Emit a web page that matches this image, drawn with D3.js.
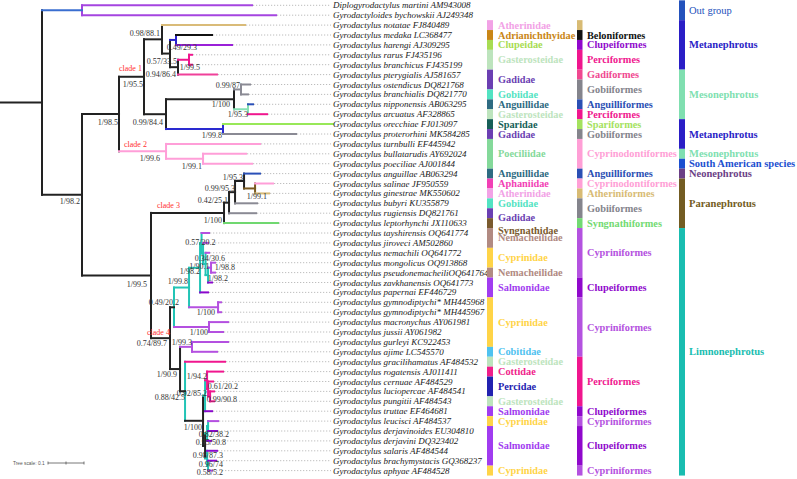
<!DOCTYPE html>
<html><head><meta charset="utf-8">
<script src="https://cdn.jsdelivr.net/npm/d3@7"></script>
<style>body{margin:0;background:#fff}svg{display:block}</style>
</head><body>
<svg id="c" width="797" height="479"></svg>
<script>
// ---------------- DATA ----------------
const taxonLabels = [
"Diplogyrodactylus martini AM943008","Gyrodactyloides bychowskii AJ249348","Gyrodactylus notatae FJ840489",
"Gyrodactylus medaka LC368477","Gyrodactylus harengi AJ309295","Gyrodactylus rarus FJ435196",
"Gyrodactylus branchicus FJ435199","Gyrodactylus pterygialis AJ581657","Gyrodactylus ostendicus DQ821768",
"Gyrodactylus branchialis DQ821770","Gyrodactylus nipponensis AB063295","Gyrodactylus arcuatus AF328865",
"Gyrodactylus orecchiae FJ013097","Gyrodactylus proterorhini MK584285","Gyrodactylus turnbulli EF445942",
"Gyrodactylus bullatarudis AY692024","Gyrodactylus poeciliae AJ001844","Gyrodactylus anguillae AB063294",
"Gyrodactylus salinae JF950559","Gyrodactylus ginestrae MK550602","Gyrodactylus bubyri KU355879",
"Gyrodactylus rugiensis DQ821761","Gyrodactylus leptorhynchi JX110633","Gyrodactylus tayshirensis OQ641774",
"Gyrodactylus jiroveci AM502860","Gyrodactylus nemachili OQ641772","Gyrodactylus mongolicus OQ913868",
"Gyrodactylus pseudonemacheiliOQ641764","Gyrodactylus zavkhanensis OQ641773","Gyrodactylus papernai EF446729",
"Gyrodactylus gymnodiptychi* MH445968","Gyrodactylus gymnodiptychi* MH445967","Gyrodactylus macronychus AY061981",
"Gyrodactylus jussii AY061982","Gyrodactylus gurleyi KC922453","Gyrodactylus ajime LC545570",
"Gyrodactylus gracilihamatus AF484532","Gyrodactylus rogatensis AJ011411","Gyrodactylus cernuae AF484529",
"Gyrodactylus luciopercae AF484541","Gyrodactylus pungitii AF484543","Gyrodactylus truttae EF464681",
"Gyrodactylus leucisci AF484537","Gyrodactylus derjavinoides EU304810","Gyrodactylus derjavini DQ323402",
"Gyrodactylus salaris AF484544","Gyrodactylus brachymystacis GQ368237","Gyrodactylus aphyae AF484528"
];
// host family / order / group for each taxon row (same order as taxonLabels)
const families = [null,null,"Atherinidae","Adrianichthyidae","Clupeidae","Gasterosteidae","Gasterosteidae",
"Gadidae","Gadidae","Gobiidae","Anguillidae","Gasterosteidae","Sparidae","Gadidae","Poeciliidae","Poeciliidae",
"Poeciliidae","Anguillidae","Aphaniidae","Atherinidae","Gobiidae","Gadidae","Syngnathidae","Nemacheilidae",
"Nemacheilidae","Cyprinidae","Cyprinidae","Nemacheilidae","Salmonidae","Salmonidae","Cyprinidae","Cyprinidae",
"Cyprinidae","Cyprinidae","Cyprinidae","Cobitidae","Gasterosteidae","Cottidae","Percidae","Percidae",
"Gasterosteidae","Salmonidae","Cyprinidae","Salmonidae","Salmonidae","Salmonidae","Salmonidae","Cyprinidae"];
const orders = [null,null,"(Atheriniformes)","Beloniformes","Clupeiformes","Perciformes","Perciformes",
"Gadiformes","Gobiiformes","Gobiiformes","Anguilliformes","Perciformes","Spariformes","Gobiiformes",
"Cyprinodontiformes","Cyprinodontiformes","Cyprinodontiformes","Anguilliformes","Cyprinodontiformes",
"Atheriniformes","Gobiiformes","Gobiiformes","Syngnathiformes","Cypriniformes","Cypriniformes","Cypriniformes",
"Cypriniformes","Cypriniformes","Clupeiformes","Clupeiformes","Cypriniformes","Cypriniformes","Cypriniformes",
"Cypriniformes","Cypriniformes","Cypriniformes","Perciformes","Perciformes","Perciformes","Perciformes",
"Perciformes","Clupeiformes","Cypriniformes","Clupeiformes","Clupeiformes","Clupeiformes","Clupeiformes","Cypriniformes"];
const groups = ["Out group","Out group","Metanephrotus","Metanephrotus","Metanephrotus","Metanephrotus","Metanephrotus",
"Mesonephrotus","Mesonephrotus","Mesonephrotus","Mesonephrotus","Mesonephrotus","Metanephrotus","Metanephrotus",
"Metanephrotus","Mesonephrotus","South American species","Neonephrotus","Paranephrotus","Paranephrotus",
"Paranephrotus","Paranephrotus","Paranephrotus"].concat(Array(25).fill("Limnonephrotus"));

// tree topology with branch lengths (Newick; leaves = accession numbers)
const nwOut = "(AM943008:0.4722,AJ249348:0.5389)O:0.1111";
const nwU1 = "(FJ840489:0.2306,((LC368477:0.1,AJ309295:0.1556)U3:0.0167,((FJ435196:0.0083,FJ435199:0.0083)U5:0.0306,AJ581657:0.1083)U4:0.0222)U2:0.0222)U1:0.05";
const nwL1 = "(((DQ821768:0.025,DQ821770:0.0194)L4:0.0194,(AB063295:0.0139,AF328865:0.0528)L5:0.0389)L2:0.1889,(FJ013097:0.3056,MK584285:0.2028)L3:0.1583)L1:0.0611";
const nwK2 = "(EF445942:0.2611,(AY692024:0.1194,AJ001844:0.1361)C2b:0.1028)K2:0.1306";
const nwC3 = "((((AB063294:0.0444,(JF950559:0.05,MK550602:0.0389)N4:0.0306)N3:0.025,KU355879:0.0611)N2:0.0167,DQ821761:0.075)N1:0.0139,JX110633:0.15)C3:0.2028";
const nwD1 = "((((OQ641774:0.0208,(AM502860:0.0139,(OQ641772:0.0097,((OQ913868:0.0111,OQ641764:0.0111)D11:0.0083,OQ641773:0.0111)D10:0.0069)D9:0.0069)D8:0.0042)D7:0.0042,EF446729:0.0222)D6:0.0306,(MH445968:0.0083,MH445967:0.0083)D5:0.0806)D3:0.0417,(AY061981:0.0528,AY061982:0.0389)D4:0.0972)D1:0.0111";
const nwD2 = "((KC922453:0.1,LC545570:0.0694)E1:0.0333,(AF484532:0.1111,(((AJ011411:0.0444,(AF484529:0.0139,(AF484541:0.0111,AF484543:0.0111)E8:0.0056)E7:0.0028)E6:0.0056,EF464681:0.0194)E4:0.0056,(((AF484537:0.0278,EU304810:0.025)F3:0.0028,DQ323402:0.0111)F1:0.0056,(AF484544:0.0278,(GQ368237:0.0222,AF484528:0.0111)F4:0.0028)F2:0.0056)E5:0.0056)E3:0.05)E2:0.0139)D2:0.0278";
const newick = "(" + nwOut + ",(((" + nwU1 + "," + nwL1 + ")K1:0.0694," + nwK2 + ")A:0.1028,(" + nwC3 + ",(" + nwD1 + "," + nwD2 + ")C4:0.0528)B:0.1917)I:0.1111)R:0.1167;";

const supports = {I:"1/98.2",A:"1/98.5",K1:"1/95.5",U1:"0.98/88.1",U2:"0.57/33.5",U3:"0.49/29.3",U4:"0.94/86.4",
U5:"1/99.5",L1:"0.99/84.4",L2:"1/100",L4:"0.99/87",L5:"1/95.3",L3:"1/99.8",K2:"1/99.6",C2b:"1/99.1",B:"1/99.5",
C3:"1/100",N1:"0.42/25.1",N2:"0.99/95.3",N3:"1/95.3",N4:"1/99.1",C4:"0.74/89.7",D1:"0.49/20.2",D3:"1/99.8",
D6:"1/98.2",D7:"0.57/20.2",D8:"0.34/30.6",D9:"1/90.1",D10:"1/98.2",D11:"1/98.8",D5:"1/100",D4:"1/100",
D2:"1/90.9",E1:"1/99.3",E2:"0.88/42.5",E3:"1/100",E4:"0.92/85.2",E6:"1/94.2",E7:"0.61/20.2",E8:"0.99/90.8",
E5:"0.98/87.3",F1:"0.95/50.8",F3:"0.82/38.2",F2:"0.96/74",F4:"0.58/5.2"};
const cladeNames = {K1:"clade 1",K2:"clade 2",C3:"clade 3",C4:"clade 4"};
const scaleBarValue = 0.1;

// ---------------- STYLE / LAYOUT ----------------
const K="#222",P="#b450e0",DP="#8a08cc",M="#f0168e",LP="#ff9ed8",T="#22c4b6",G="#8a8a94",BL="#2a50b8";
const stemColor = {O:"#3a6ed0",AM943008:"#a545e0",AJ249348:"#a545e0",FJ840489:"#d9bb78",U3:"#2a22cc",
LC368477:"#111",AJ309295:"#9a20d8",U5:M,FJ435196:M,FJ435199:M,AJ581657:"#f0409a",L4:G,DQ821768:G,DQ821770:G,
L5:"#86e0b4",AB063295:BL,AF328865:M,L3:"#2a2ad0",FJ013097:"#98e858",MK584285:G,K2:LP,EF445942:LP,C2b:LP,
AY692024:LP,AJ001844:LP,JX110633:"#70d870",DQ821761:G,KU355879:G,AB063294:BL,N4:"#7a5a20",JF950559:LP,
MK550602:"#d9bb78",D3:T,D4:P,AY061981:P,AY061982:P,D5:P,MH445968:P,MH445967:P,D6:T,D7:T,D8:T,D9:T,D10:T,
D11:P,OQ641774:P,AM502860:P,OQ641772:P,OQ913868:P,OQ641764:P,OQ641773:DP,EF446729:DP,E1:P,KC922453:P,
LC545570:P,AF484532:M,E4:T,E6:M,E7:M,E8:M,AJ011411:M,AF484529:M,AF484541:M,AF484543:M,EF464681:DP,
F1:T,F2:T,F3:T,F4:T,AF484537:P,EU304810:DP,DQ323402:DP,AF484544:DP,GQ368237:DP,AF484528:P};
const vertColor = {O:"#a545e0",U3:"#2a22cc",U5:M,L4:G,L5:"#86e0b4",L3:"#2a2ad0",K2:LP,C2b:LP,N4:"#7a5a20",
D1:T,D3:T,D4:P,D5:P,D6:T,D7:T,D8:T,D9:T,D10:T,D11:P,E1:P,E2:T,E4:T,E6:M,E7:M,E8:M,F1:T,F2:T,F3:T,F4:T};
const supportOffset = {U1:[-2,-5.6],U2:[7,8],U3:[21,8],U4:[-2,7],U5:[11,8],K1:[-1,8],A:[-1,8],L1:[-3,8],
L2:[-4,5],L4:[-1,-3.5],L5:[0,5],L3:[-1,6],K2:[-6,7.5],C2b:[-1,8],I:[-2,7],B:[-4,9],C3:[-2,8],N1:[-1,-2.6],
N2:[0,-4],N3:[-1,-4],N4:[12,8.5],C4:[-3,5],D1:[5,-4.5],D3:[-1,-6.5],D5:[-3,5],D4:[-1,5],D6:[0,4],D7:[14,-1],
D8:[22,5],D9:[4,3],D10:[20,3.5],D11:[24,0],D2:[-3,5.5],E1:[0,-4],E2:[0,6],E3:[-1,7],E4:[2,-2.6],E6:[0,-4],
E7:[30,-2],E8:[27,3],E5:[18,10],F1:[19,8.6],F3:[21,8],F2:[16,6],F4:[15,6.5]};
const cladeOffset = {K1:[0,-8],K2:[5,-7],C3:[6,-7],C4:[-4,-6]};
const familyColors = {Atherinidae:"#f2a2e6",Adrianichthyidae:"#c98616",Clupeidae:"#a8dc52",Gasterosteidae:"#bde4bd",
Gadidae:"#6b3fb2",Gobiidae:"#52e3c2",Anguillidae:"#2e6b82",Sparidae:"#175f58",Poeciliidae:"#84d99a",
Aphaniidae:"#f23fb5",Syngnathidae:"#7a5a2e",Nemacheilidae:"#b18a82",Cyprinidae:"#ffd447",Salmonidae:"#a13cf0",
Cobitidae:"#4fc2f0",Cottidae:"#f01e8a",Percidae:"#2222b0"};
const orderColors = {"(Atheriniformes)":"#d8bb74",Beloniformes:"#111",Clupeiformes:"#9008cc",Perciformes:"#f0168e",
Gadiformes:"#f04890",Gobiiformes:"#84848c",Anguilliformes:"#2a4fb4",Spariformes:"#a4e25e",
Cyprinodontiformes:"#ff9fd6",Atheriniformes:"#d8bb74",Syngnathiformes:"#72da72",Cypriniformes:"#b452e0"};
const groupColors = {"Out group":"#2452bc",Metanephrotus:"#2a1ec6",Mesonephrotus:"#80dfb0",
"South American species":"#1b4fd0",Neonephrotus:"#6b3f86",Paranephrotus:"#735c22",Limnonephrotus:"#19bdb0"};
const familyLabelShift = {21:4,22:7};

// ---------------- BUILD ----------------
function parseNewick(s){
  let i=0;
  function node(){
    const n={};
    if(s[i]==="("){ n.children=[]; i++; n.children.push(node());
      while(s[i]===","){ i++; n.children.push(node()); } i++; }
    let name=""; while(i<s.length && !":,);".includes(s[i])) name+=s[i++];
    n.name=name; n.length=0;
    if(s[i]===":"){ i++; let l=""; while(i<s.length && !",);".includes(s[i])) l+=s[i++]; n.length=+l; }
    return n;
  }
  return node();
}
const svg = d3.select("#c");
const serif = "'Liberation Serif','Times New Roman',serif";
const root = d3.hierarchy(parseNewick(newick));
root.eachBefore(d => d.dist = (d.parent ? d.parent.dist : 0) + d.data.length);
const accessions = taxonLabels.map(t => t.slice(-8));
const x = d3.scaleLinear().domain([0,1]).range([0,360]);
const y = d3.scaleLinear().domain([0,taxonLabels.length-1]).range([5.3,470.6]);
root.eachAfter(d => {
  if(d.children) d.yy = (d.children[0].yy + d.children[d.children.length-1].yy)/2;
  else d.yy = y(accessions.indexOf(d.data.name));
});
const nodes = root.descendants();
const labelStart = 333;

// leaders
svg.append("g").selectAll("line").data(root.leaves()).join("line")
  .attr("x1", d => x(d.dist)+1).attr("x2", labelStart-2)
  .attr("y1", d => d.yy).attr("y2", d => d.yy)
  .attr("stroke","#b4b4b4").attr("stroke-width",0.9).attr("stroke-dasharray","1.2,1.8");

const gT = svg.append("g").attr("stroke-linecap","square").attr("fill","none");
gT.selectAll("line.v").data(nodes.filter(d=>d.children)).join("line").attr("class","v")
  .attr("x1", d=>x(d.dist)).attr("x2", d=>x(d.dist))
  .attr("y1", d=>d.children[0].yy).attr("y2", d=>d.children[d.children.length-1].yy)
  .attr("stroke", d=>vertColor[d.data.name]||K).attr("stroke-width",2);
gT.selectAll("line.h").data(nodes).join("line").attr("class","h")
  .attr("x1", d=>x(d.parent ? d.parent.dist : 0)).attr("x2", d=>x(d.dist))
  .attr("y1", d=>d.yy).attr("y2", d=>d.yy)
  .attr("stroke", d=>stemColor[d.data.name]||K).attr("stroke-width",2);

svg.append("g").selectAll("text").data(nodes.filter(d=>supports[d.data.name])).join("text")
  .attr("x", d=>x(d.dist)+(supportOffset[d.data.name]||[-2,6])[0])
  .attr("y", d=>d.yy+(supportOffset[d.data.name]||[-2,6])[1])
  .attr("text-anchor","end").attr("dominant-baseline","central")
  .attr("font-family",serif).attr("font-size",8).attr("fill","#333")
  .text(d=>supports[d.data.name]);
svg.append("g").selectAll("text").data(nodes.filter(d=>cladeNames[d.data.name])).join("text")
  .attr("x", d=>x(d.parent.dist)+cladeOffset[d.data.name][0])
  .attr("y", d=>d.yy+cladeOffset[d.data.name][1])
  .attr("dominant-baseline","central")
  .attr("font-family",serif).attr("font-size",8).attr("fill","#ff3030")
  .text(d=>cladeNames[d.data.name]);

svg.append("g").selectAll("text").data(taxonLabels).join("text")
  .attr("x", labelStart).attr("y",(d,i)=>y(i)).attr("dominant-baseline","central")
  .attr("font-family",serif).attr("font-style","italic").attr("font-size",9).attr("fill","#222")
  .text(d=>d);

function runs(arr){
  const out=[]; arr.forEach((v,i)=>{ if(v==null) return;
    const last=out[out.length-1];
    if(last && last.v===v && last.end===i-1) last.end=i; else out.push({v,start:i,end:i}); });
  return out;
}
const half = (y(1)-y(0))/2;
function column(arr, colors, barX, barW, textX, opts){
  const g = svg.append("g");
  const r = runs(arr);
  g.selectAll("rect").data(r).join("rect")
    .attr("x",barX).attr("width",barW)
    .attr("y",d=>y(d.start)-half).attr("height",d=>y(d.end)-y(d.start)+2*half)
    .attr("fill",d=>colors[d.v]);
  g.selectAll("text").data(r.filter(d=>!d.v.startsWith("("))).join("text")
    .attr("x",textX).attr("y",d=>(y(d.start)+y(d.end))/2+((opts.shift||{})[d.start]||0))
    .attr("dominant-baseline","central").attr("font-family",serif)
    .attr("font-size",opts.size).attr("font-weight",d=>opts.normal&&opts.normal.includes(d.v)?"normal":"bold")
    .attr("fill",d=>colors[d.v]).text(d=>d.v);
}
column(families, familyColors, 487, 6, 498, {size:10.3, shift:familyLabelShift});
column(orders, orderColors, 577, 5.5, 587, {size:10.3});
column(groups, groupColors, 679, 6, 689, {size:10.5, normal:["Out group"]});

// tree scale
const sb = svg.append("g").attr("stroke","#555").attr("stroke-width",0.8);
const sx0 = 48, sx1 = sx0 + x(scaleBarValue) - x(0), sy = 463;
sb.append("line").attr("x1",sx0).attr("x2",sx1).attr("y1",sy).attr("y2",sy);
[sx0,(sx0+sx1)/2,sx1].forEach(v=>sb.append("line").attr("x1",v).attr("x2",v).attr("y1",sy-1.5).attr("y2",sy+1.5));
svg.append("text").attr("x",13).attr("y",sy).attr("dominant-baseline","central")
  .attr("font-family","'Liberation Sans',sans-serif").attr("font-size",4.8).attr("fill","#555")
  .text("Tree scale: "+scaleBarValue);
</script>
</body></html>
